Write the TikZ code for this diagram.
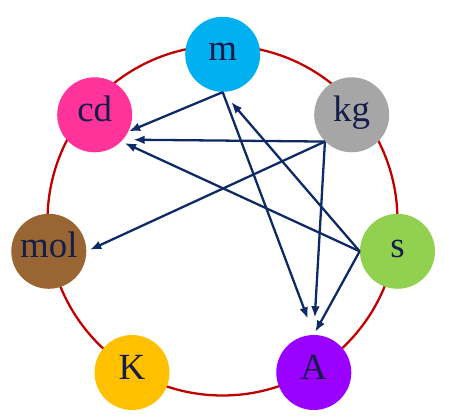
\documentclass[tikz,border=0pt]{standalone}
\usepackage{fontspec}
\setmainfont{Liberation Serif}
\usetikzlibrary{arrows.meta}
\definecolor{ringred}{HTML}{C00000}
\definecolor{linknavy}{HTML}{0D2A66}
\definecolor{textnavy}{HTML}{141E48}
\definecolor{ucyan}{HTML}{00B0F0}
\definecolor{upink}{HTML}{FF3399}
\definecolor{ugray}{HTML}{A6A6A6}
\definecolor{ubrown}{HTML}{996633}
\definecolor{ugreen}{HTML}{92D050}
\definecolor{ugold}{HTML}{FFC000}
\definecolor{upurple}{HTML}{9900FF}
\begin{document}
\begin{tikzpicture}[
  unit/.style={circle,fill=#1,minimum size=1.5cm,inner sep=0pt,
    text=textnavy,font=\fontsize{21}{23}\selectfont,
    text height=0.95em,text depth=0.2em},
  link/.style={linknavy,line width=1.3pt,-{Latex[length=6.5pt,width=5pt]}}]
  \useasboundingbox (0,0) rectangle (9,8.4);
  \draw[ringred,line width=1.3pt] (4.45,3.99) circle (3.5);
  \node[unit=ucyan] (m) at (4.454,7.314) {m};
  \node[unit=upink] (cd) at (1.894,6.104) {cd};
  \node[unit=ugray] (kg) at (7.034,6.104) {kg};
  \node[unit=ubrown] (mol) at (0.976,3.374) {mol};
  \node[unit=ugreen] (s) at (7.95,3.374) {s};
  \node[unit=ugold] (K) at (2.64,0.95) {K};
  \node[unit=upurple] (A) at (6.276,0.95) {A};
  \draw[link] (m.south) -- (cd.-26);
  \draw[link,shorten >=0.34cm] (m.south) -- (A.north);
  \draw[link,shorten >=0.2cm] (kg.south west) -- (cd.-41);
  \draw[link,shorten >=0.07cm] (kg.south west) -- (mol.east);
  \draw[link,shorten >=0.34cm] (kg.south west) -- (A.north);
  \draw[link,shorten >=0.07cm] (s.west) -- (cd.-45);
  \draw[link,shorten >=0.26cm] (s.west) -- (m.south);
  \draw[link,shorten >=0.06cm] (s.west) -- (A.north);
\end{tikzpicture}
\end{document}
